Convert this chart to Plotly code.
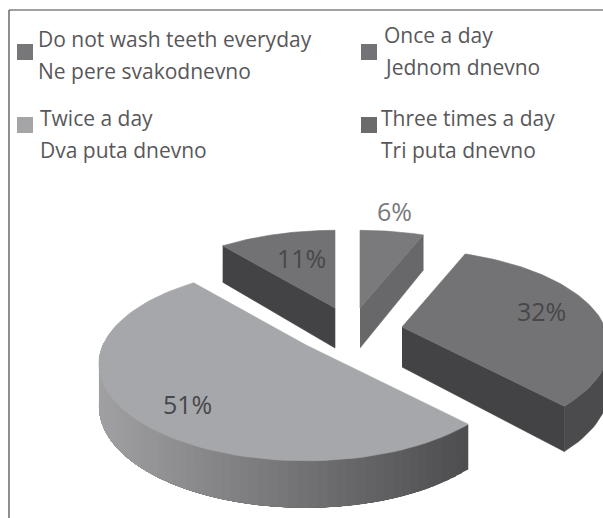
import math
import plotly.graph_objects as go

categories_en = ["Once a day", "Twice a day", "Three times a day", "Do not wash teeth everyday"]
categories_hr = ["Jednom dnevno", "Dva puta dnevno", "Tri puta dnevno", "Ne pere svakodnevno"]
values = [32, 51, 11, 6]
top_colors = ["#737375", "#a6a7aa", "#727274", "#7a7a7d"]
edge_colors = ["#434345", None, "#434345", "#68686b"]
legend_colors = ["#737377", "#a5a5a8", "#6b6b6e", "#77777a"]

W, H = 603, 518
A, B, P = 203, 93, 0.197
apex = {"Once a day": (402, 327), "Twice a day": (306, 345),
        "Three times a day": (335, 308), "Do not wash teeth everyday": (360, 308)}
label_pos = {"Once a day": (541, 311), "Twice a day": (187, 404),
             "Three times a day": (301, 258), "Do not wash teeth everyday": (394, 211)}
legend_pos = {"Do not wash teeth everyday": (25, 52, 36, 39, 71), "Once a day": (369, 52, 382, 35, 67),
              "Twice a day": (25, 125, 38, 118, 150), "Three times a day": (369, 125, 379, 118, 150)}

# angles clockwise from "up"; the 6% slice starts at 0
order = [3, 0, 1, 2]
angles = {}
cum = 0.0
for i in order:
    angles[i] = (cum, cum + values[i] * 3.6 / (sum(values) / 100))
    cum += values[i] * 3.6 / (sum(values) / 100)


def pt(c, deg):
    s, co = math.sin(math.radians(deg)), math.cos(math.radians(deg))
    d = 1 + P * co
    return c[0] + A * s / d, c[1] - B * co / d


def depth(deg):
    return 41 - 6 * math.cos(math.radians(deg))


def arc(a0, a1, n):
    return [a0 + (a1 - a0) * k / n for k in range(n + 1)]


fig = go.Figure()


def poly(xs, ys, color, width=0.6):
    fig.add_trace(go.Scatter(x=xs, y=ys, mode="lines", fill="toself", fillcolor=color,
                             line=dict(color=color, width=width), hoverinfo="skip", showlegend=False))


def mix(t):
    c0, c1 = (160, 160, 163), (78, 78, 81)
    return "rgb(%d,%d,%d)" % tuple(round(c0[j] + (c1[j] - c0[j]) * t) for j in range(3))


# back slices first
for i in [2, 3, 0, 1]:
    name = categories_en[i]
    c = apex[name]
    a0, a1 = angles[i]
    # side faces
    if name == "Three times a day":
        p = pt(c, a0)
        poly([p[0], c[0], c[0], p[0]], [p[1], c[1], c[1] + 40, p[1] + depth(a0)], edge_colors[i])
    elif name == "Do not wash teeth everyday":
        p = pt(c, a1)
        poly([c[0], p[0], p[0], c[0]], [c[1], p[1], p[1] + depth(a1), c[1] + 40], edge_colors[i])
    elif name == "Once a day":
        p = pt(c, a1)
        poly([c[0], p[0], p[0], c[0]], [c[1], p[1], p[1] + depth(a1), c[1] + 40], edge_colors[i])
        rim = arc(90, a1, 24)
        up = [pt(c, a) for a in rim]
        poly([q[0] for q in up] + [q[0] for q in up[::-1]],
             [q[1] for q in up] + [q[1] + depth(a) for q, a in zip(up[::-1], rim[::-1])], "#4b4b4d")
    else:
        rim = arc(a0, 272, 60)
        xmin, xmax = pt(c, 270)[0], pt(c, a0)[0]
        # painted from the dark end, each strip running well past the next one: no seams
        for k in range(len(rim) - 1):
            seg = arc(rim[k], 272, 12)
            up = [pt(c, a) for a in seg]
            t = (pt(c, rim[k])[0] - xmin) / (xmax - xmin)
            poly([q[0] for q in up] + [q[0] for q in up[::-1]],
                 [q[1] for q in up] + [q[1] + depth(a) for q, a in zip(up[::-1], seg[::-1])], mix(t), 0)
    # top face
    outer = [pt(c, a) for a in arc(a0, a1, 80)]
    poly([c[0]] + [q[0] for q in outer] + [c[0]], [c[1]] + [q[1] for q in outer] + [c[1]], top_colors[i])

annotations = []
for i, name in enumerate(categories_en):
    lx, ly = label_pos[name]
    color = "#7a7a7c" if name == "Do not wash teeth everyday" else "#47474a"
    annotations.append(dict(x=lx, y=ly, text=f"{values[i]}%", showarrow=False, xanchor="center", yanchor="middle",
                            font=dict(family="Open Sans", size=25, color=color)))
    mx, my, tx, y1, y2 = legend_pos[name]
    for txt, ty in ((name, y1), (categories_hr[i], y2)):
        annotations.append(dict(x=tx, y=ty, text=txt, showarrow=False, xanchor="left", yanchor="middle",
                                font=dict(family="Open Sans", size=21, color="#58585a")))
    fig.add_trace(go.Scatter(x=[mx], y=[my], mode="markers", hoverinfo="skip", showlegend=False,
                             marker=dict(symbol="square", size=16, color=legend_colors[i], line=dict(width=0))))

shapes = [dict(type="line", x0=9, x1=9, y0=10, y1=H, line=dict(color="#444", width=1.2)),
          dict(type="line", x0=9, x1=W, y0=10, y1=10, line=dict(color="#444", width=1.2))]

fig.update_layout(width=W, height=H, margin=dict(l=0, r=0, t=0, b=0), paper_bgcolor="white", plot_bgcolor="white",
                  xaxis=dict(range=[0, W], visible=False, fixedrange=True),
                  yaxis=dict(range=[H, 0], visible=False, fixedrange=True),
                  annotations=annotations, shapes=shapes, showlegend=False)
fig.write_html("out.html", config={"displayModeBar": False},
               post_script="document.body.style.margin='0';document.body.style.overflow='hidden';")
